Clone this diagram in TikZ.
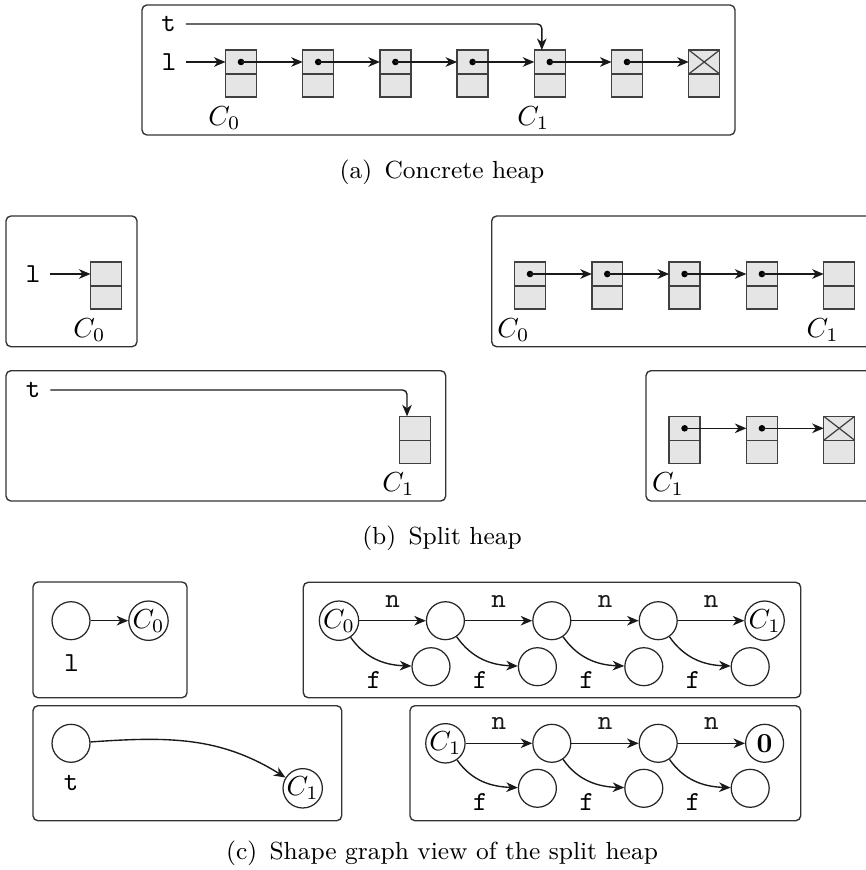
\documentclass[tikz,border=0pt]{standalone}
\usetikzlibrary{arrows.meta,positioning}

% one two-part heap cell: #1 name, (#2,#3) centre of its upper (pointer) field
\newcommand\heapcell[3]{%
  \node[cellhead] (#1) at (#2,#3) {};
  \node[celltail, below=0pt of #1] (#1t) {};}
\newcommand\celldot[1]{\fill[black] (#1.center) circle (1.2pt);}
\newcommand\nullcross[1]{%
  \draw[black!75, line width=0.45pt] (#1.north west) -- (#1.south east)
       (#1.north east) -- (#1.south west);}

\begin{document}
\begin{tikzpicture}[x=0.3636pt, y=-0.3636pt,
  region/.style={draw=black!80, line width=0.5pt, rounded corners=1.8pt},
  cellhead/.style={draw=black!75, fill=black!10, line width=0.5pt,
    minimum width=11.27pt, minimum height=8.73pt, inner sep=0pt, outer sep=0pt},
  celltail/.style={cellhead, minimum height=8.36pt},
  ptr/.style={-{Stealth[length=4.2pt,width=3.5pt,inset=1.3pt]}, line width=0.5pt, black!90},
  var/.style={font=\ttfamily, inner sep=3.5pt},
  clab/.style={anchor=north east, inner xsep=0pt, inner ysep=3.3pt},
  sg/.style={circle, draw=black!85, line width=0.45pt, minimum size=13.8pt, inner sep=0pt},
  fld/.style={font=\ttfamily, inner sep=0pt},
  subcap/.style={font=\small}]
\useasboundingbox (0,0) rectangle (866,870);
\clip (0,0) rectangle (866,870);

% ---------------- (a) concrete heap ----------------
\draw[region] (142,5) rectangle (735,135);
\heapcell{a1}{241}{62}
\heapcell{a2}{318.2}{62}
\heapcell{a3}{395.4}{62}
\heapcell{a4}{472.6}{62}
\heapcell{a5}{549.8}{62}
\heapcell{a6}{627}{62}
\heapcell{a7}{704.2}{62}
\foreach \c in {a1,a2,a3,a4,a5,a6} {\celldot{\c}}
\nullcross{a7}
\draw[ptr] (a1.center) -- (a2.west);
\draw[ptr] (a2.center) -- (a3.west);
\draw[ptr] (a3.center) -- (a4.west);
\draw[ptr] (a4.center) -- (a5.west);
\draw[ptr] (a5.center) -- (a6.west);
\draw[ptr] (a6.center) -- (a7.west);
\node[var] (al) at (169,62) {l};
\node[var] (at) at (168.5,24) {t};
\draw[ptr] (al.east) -- (a1.west);
\draw[ptr, rounded corners=1.6pt] (at.east) -| ([xshift=-2.9pt]a5.north);
\node[clab] (aC0) at (a1t.south) {$C_0$};
\node[clab] (aC1) at (a5t.south) {$C_1$};
\node[subcap] (capa) at (442,172) {(a)\hspace{0.5em}Concrete heap};

% ---------------- (b) split heap ----------------
\draw[region] (6,216) rectangle (137,346.7);
\heapcell{b1}{106}{274}
\node[var] (bl) at (33,274) {l};
\draw[ptr] (bl.east) -- (b1.west);
\node[clab] (bC0) at (b1t.south) {$C_0$};

\draw[region] (6,370.7) rectangle (445.7,501);
\heapcell{b2}{415}{428.3}
\node[var] (bt) at (33,390) {t};
\draw[ptr, rounded corners=1.6pt] (bt.east) -| ([xshift=-2.9pt]b2.north);
\node[clab] (bC1) at (b2t.south) {$C_1$};

\draw[region] (491.7,216) rectangle (890,346.7);
\heapcell{d1}{530}{274}
\heapcell{d2}{607.3}{274}
\heapcell{d3}{684.6}{274}
\heapcell{d4}{761.9}{274}
\heapcell{d5}{839.2}{274}
\foreach \c in {d1,d2,d3,d4} {\celldot{\c}}
\draw[ptr] (d1.center) -- (d2.west);
\draw[ptr] (d2.center) -- (d3.west);
\draw[ptr] (d3.center) -- (d4.west);
\draw[ptr] (d4.center) -- (d5.west);
\node[clab] (dC0) at (d1t.south) {$C_0$};
\node[clab] (dC1) at (d5t.south) {$C_1$};

\draw[region] (646,370.7) rectangle (890,501);
\heapcell{e1}{684.6}{428.3}
\heapcell{e2}{761.9}{428.3}
\heapcell{e3}{839.2}{428.3}
\celldot{e1}\celldot{e2}
\nullcross{e3}
\draw[ptr] (e1.center) -- (e2.west);
\draw[ptr] (e2.center) -- (e3.west);
\node[clab] (eC1) at (e1t.south) {$C_1$};
\node[subcap] (capb) at (442,538) {(b)\hspace{0.5em}Split heap};

% ---------------- (c) shape graphs ----------------
\draw[region] (33,582) rectangle (187,697.7);
\node[sg] (gl) at (71,620.7) {};
\node[sg] (gC0) at (148.5,620.7) {$C_0$};
\draw[ptr] (gl) -- (gC0);
\node[fld] (glab) at (71.7,663.3) {l};

\draw[region] (33,705.7) rectangle (341.7,820.7);
\node[sg] (gt) at (71,743.3) {};
\node[sg] (gC1) at (302.7,788.3) {$C_1$};
\draw[ptr] (gt) to[out=4, in=148] (gC1);
\node[fld] (gtlab) at (71,783.3) {t};

\draw[region] (303.3,582.3) rectangle (800.7,697.7);
\node[sg] (p0) at (339,620.7) {$C_0$};
\node[sg] (p1) at (445.4,620.7) {};
\node[sg] (p2) at (551.8,620.7) {};
\node[sg] (p3) at (658.2,620.7) {};
\node[sg] (p4) at (764.6,620.7) {$C_1$};
\node[sg] (q1) at (431,666.7) {};
\node[sg] (q2) at (537.4,666.7) {};
\node[sg] (q3) at (643.8,666.7) {};
\node[sg] (q4) at (750.2,666.7) {};
\foreach \a/\b in {p0/p1,p1/p2,p2/p3,p3/p4}
  \draw[ptr] (\a) -- node[midway, above=1.4pt, font=\ttfamily] {n} (\b);
\foreach \a/\b in {p0/q1,p1/q2,p2/q3,p3/q4} {
  \draw[ptr] (\a) to[out=-55, in=178] (\b);
  \node[fld] at ([shift={(-57,13.3)}]\b.center) {f};}

\draw[region] (410,705.7) rectangle (800.7,820.7);
\node[sg] (r0) at (445.4,743.3) {$C_1$};
\node[sg] (r1) at (551.8,743.3) {};
\node[sg] (r2) at (658.2,743.3) {};
\node[sg] (r3) at (764.6,743.3) {$\mathbf{0}$};
\node[sg] (s1) at (537.4,788.3) {};
\node[sg] (s2) at (643.8,788.3) {};
\node[sg] (s3) at (750.2,788.3) {};
\foreach \a/\b in {r0/r1,r1/r2,r2/r3}
  \draw[ptr] (\a) -- node[midway, above=1.4pt, font=\ttfamily] {n} (\b);
\foreach \a/\b in {r0/s1,r1/s2,r2/s3} {
  \draw[ptr] (\a) to[out=-55, in=178] (\b);
  \node[fld] at ([shift={(-57,13.3)}]\b.center) {f};}
\node[subcap] (capc) at (442,853) {(c)\hspace{0.5em}Shape graph view of the split heap};
\end{tikzpicture}
\end{document}
